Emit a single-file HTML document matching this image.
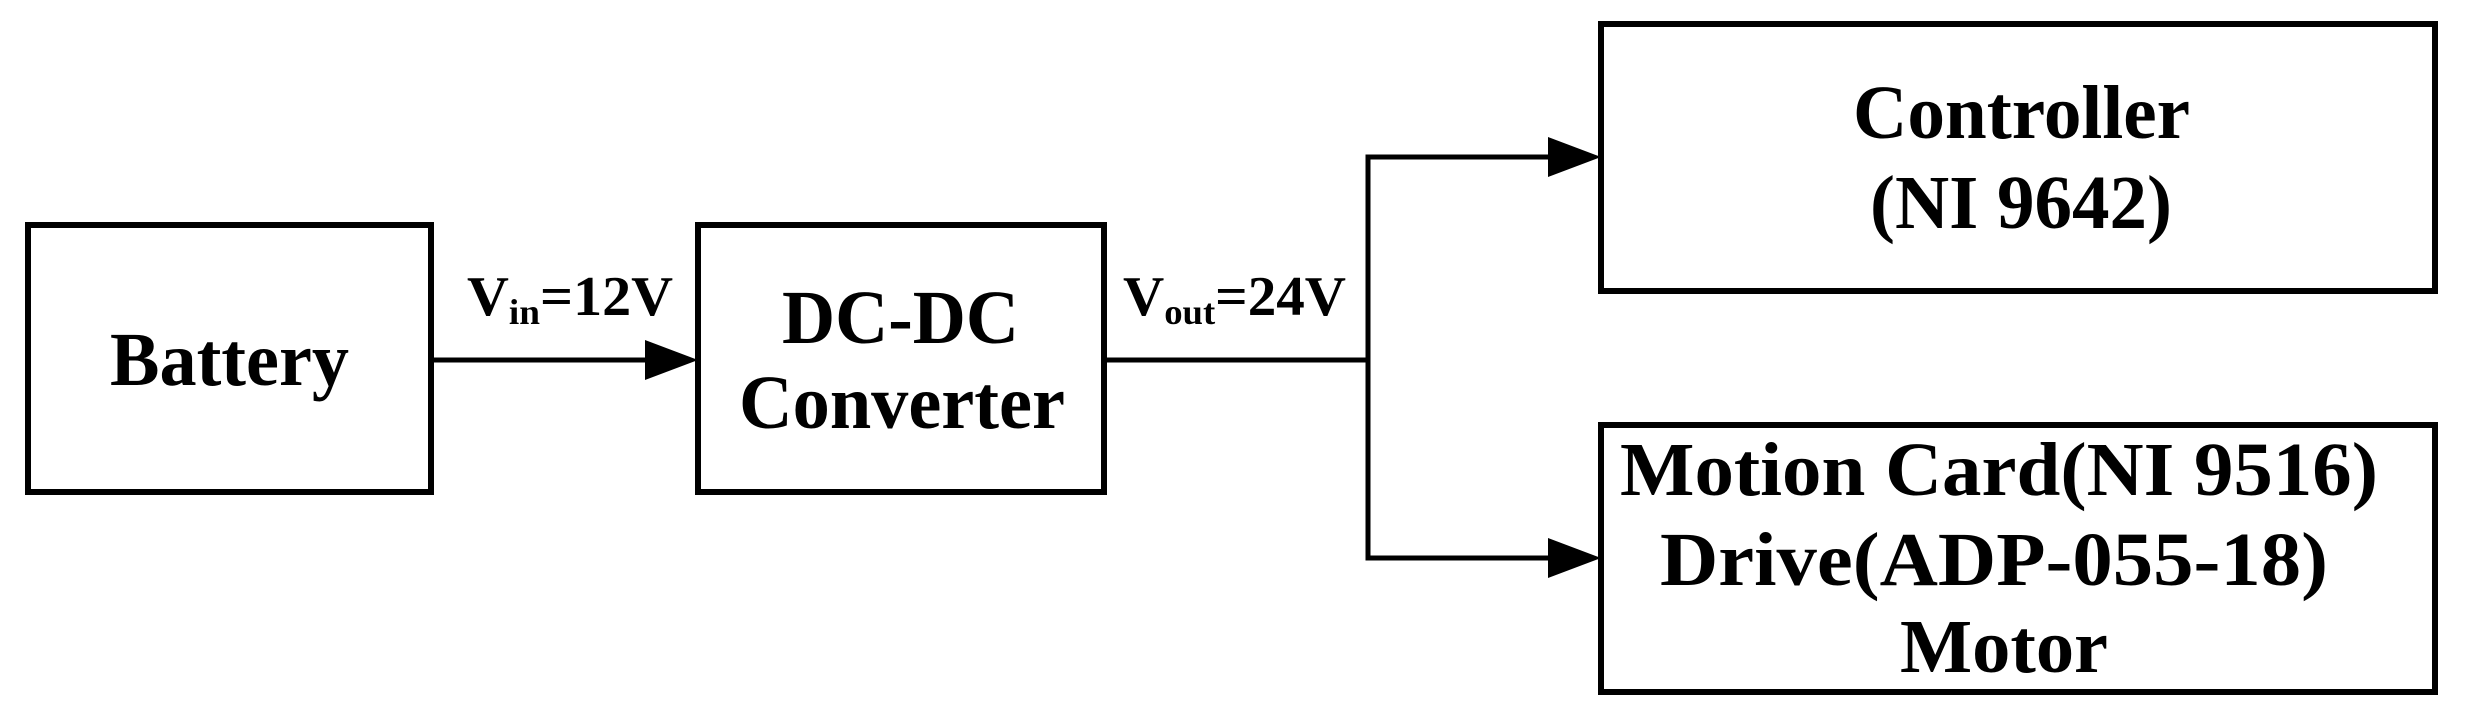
<!DOCTYPE html>
<html><head><meta charset="utf-8"><style>html,body{margin:0;padding:0;background:#fff}svg{display:block}</style></head>
<body>
<svg width="2466" height="725" viewBox="0 0 2466 725" xmlns="http://www.w3.org/2000/svg">
<g fill="none" stroke="#000" stroke-width="6">
<rect x="28" y="225" width="403" height="267"/>
<rect x="698" y="225" width="406" height="267"/>
<rect x="1601" y="24" width="834" height="267"/>
<rect x="1601" y="425" width="834" height="267"/>
</g>
<g stroke="#000" stroke-width="5" fill="none">
<line x1="431" y1="360" x2="650" y2="360"/>
<line x1="1104" y1="360" x2="1368" y2="360"/>
<polyline points="1553,157 1368,157 1368,558 1553,558"/>
</g>
<g fill="#000">
<polygon points="645,340 698,360 645,380"/>
<polygon points="1548,137 1601,157 1548,177"/>
<polygon points="1548,538 1601,558 1548,578"/>
</g>
<g font-family="Liberation Serif, serif" font-weight="bold" fill="#000" font-size="76">
<text x="110" y="385" textLength="239" lengthAdjust="spacingAndGlyphs">Battery</text>
<text x="782" y="343" textLength="237" lengthAdjust="spacingAndGlyphs">DC-DC</text>
<text x="739" y="428" textLength="326" lengthAdjust="spacingAndGlyphs">Converter</text>
<text x="1853" y="138" textLength="337" lengthAdjust="spacingAndGlyphs">Controller</text>
<text x="1870" y="228" textLength="302" lengthAdjust="spacingAndGlyphs">(NI 9642)</text>
<text x="1620" y="495" textLength="758" lengthAdjust="spacingAndGlyphs">Motion Card(NI 9516)</text>
<text x="1660" y="585" textLength="668" lengthAdjust="spacingAndGlyphs">Drive(ADP-055-18)</text>
<text x="1900" y="672" textLength="208" lengthAdjust="spacingAndGlyphs">Motor</text>
</g>
<g font-family="Liberation Serif, serif" font-weight="bold" fill="#000" font-size="56">
<text x="467" y="315" textLength="206" lengthAdjust="spacingAndGlyphs">V<tspan font-size="36" dy="9">in</tspan><tspan dy="-9">=12V</tspan></text>
<text x="1123" y="315" textLength="223" lengthAdjust="spacingAndGlyphs">V<tspan font-size="36" dy="9">out</tspan><tspan dy="-9">=24V</tspan></text>
</g>
</svg>
</body></html>
